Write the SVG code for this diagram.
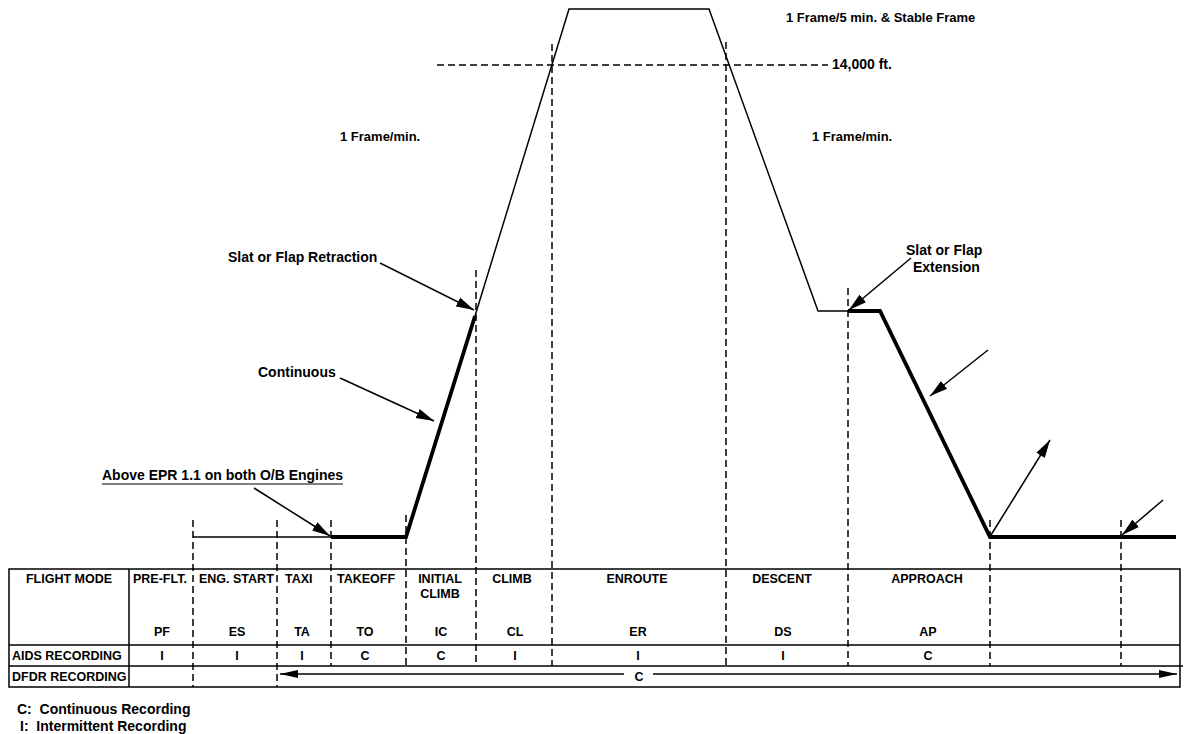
<svg xmlns="http://www.w3.org/2000/svg" width="1190" height="734" viewBox="0 0 1190 734">
<style>
text{font-family:"Liberation Sans",Arial,sans-serif;font-weight:bold;fill:#000}
.t{font-size:12.5px}
.a{font-size:14px}
.f{font-size:13px}
.l{font-size:14px}
.c{text-anchor:middle}
.thin{stroke:#000;stroke-width:1.5;fill:none}
.thick{stroke:#000;stroke-width:3.8;fill:none;stroke-linejoin:miter}
.dash{stroke:#000;stroke-width:1.5;stroke-dasharray:7,4;fill:none}
.ptr{stroke:#000;stroke-width:1.5;fill:none;marker-end:url(#ah)}
.grid{stroke:#000;stroke-width:1.5;fill:none}
</style>
<defs>
<marker id="ah" markerUnits="userSpaceOnUse" markerWidth="19" markerHeight="12" refX="18" refY="6" orient="auto">
<path d="M0,1 L18,6 L0,11 z" fill="#000"/>
</marker>
<marker id="dh" markerUnits="userSpaceOnUse" markerWidth="18" markerHeight="10" refX="18" refY="5" orient="auto">
<path d="M0,1 L18,5 L0,9 z" fill="#000"/>
</marker>
</defs>
<rect width="1190" height="734" fill="#fff"/>

<g id="profile">
<polyline class="thin" points="193,537 331,537"/>
<polyline class="thick" points="331,537 406,537 475,316"/>
<polyline class="thin" points="475,316 569,9 709,9 818,311 848,311"/>
<polyline class="thick" points="848,311 880,311 990,537 1176,537"/>
</g>

<g id="guides">
<line class="dash" x1="437" y1="65" x2="828" y2="65"/>
<line class="dash" x1="193" y1="520" x2="193" y2="687"/>
<line class="dash" x1="277" y1="520" x2="277" y2="687"/>
<line class="dash" x1="331" y1="520" x2="331" y2="666"/>
<line class="dash" x1="406" y1="515" x2="406" y2="666"/>
<line class="dash" x1="476" y1="270" x2="476" y2="666"/>
<line class="dash" x1="552" y1="44" x2="552" y2="666"/>
<line class="dash" x1="726" y1="42" x2="726" y2="666"/>
<line class="dash" x1="848" y1="288" x2="848" y2="666"/>
<line class="dash" x1="990" y1="520" x2="990" y2="666"/>
<line class="dash" x1="1121" y1="520" x2="1121" y2="666"/>
</g>

<g id="connectors">
<line class="ptr" x1="380" y1="263" x2="474" y2="310"/>
<line class="ptr" x1="340" y1="378" x2="434" y2="421"/>
<line class="ptr" x1="254" y1="488" x2="330" y2="536"/>
<line class="ptr" x1="911" y1="258" x2="849" y2="310"/>
<line class="ptr" x1="988" y1="350" x2="930" y2="396"/>
<line class="ptr" x1="991" y1="535" x2="1050" y2="440"/>
<line class="ptr" x1="1163" y1="500" x2="1122" y2="535"/>
</g>

<g id="labels">
<text class="f" x="786" y="22">1 Frame/5 min. &amp; Stable Frame</text>
<text class="a" x="832" y="69">14,000 ft.</text>
<text class="f" x="340" y="141">1 Frame/min.</text>
<text class="f" x="812" y="141">1 Frame/min.</text>
<text class="a" x="228" y="262">Slat or Flap Retraction</text>
<text class="a" x="258" y="377">Continuous</text>
<text class="a" x="102" y="480">Above EPR 1.1 on both O/B Engines</text>
<line x1="102" y1="484" x2="343" y2="484" stroke="#000" stroke-width="1.2"/>
<text class="a" x="906" y="255">Slat or Flap</text>
<text class="a" x="913" y="272">Extension</text>
</g>

<g id="table">
<path class="grid" d="M9,569 H1180 V687 H9 Z"/>
<line class="grid" x1="9" y1="645" x2="1180" y2="645"/>
<line class="grid" x1="9" y1="666" x2="1183" y2="666"/>
<line class="grid" x1="129" y1="569" x2="129" y2="687"/>
<text class="t c" x="69" y="583">FLIGHT MODE</text>
<text class="t" x="133" y="583">PRE-FLT.</text>
<text class="t" x="199" y="583">ENG. START</text>
<text class="t" x="285" y="583">TAXI</text>
<text class="t" x="337" y="583">TAKEOFF</text>
<text class="t c" x="440" y="583">INITIAL</text>
<text class="t c" x="440" y="598">CLIMB</text>
<text class="t c" x="512" y="583">CLIMB</text>
<text class="t c" x="637" y="583">ENROUTE</text>
<text class="t c" x="782" y="583">DESCENT</text>
<text class="t c" x="927" y="583">APPROACH</text>
<text class="t c" x="162" y="636">PF</text>
<text class="t c" x="237" y="636">ES</text>
<text class="t c" x="302" y="636">TA</text>
<text class="t c" x="365" y="636">TO</text>
<text class="t c" x="441" y="636">IC</text>
<text class="t c" x="515" y="636">CL</text>
<text class="t c" x="638" y="636">ER</text>
<text class="t c" x="783" y="636">DS</text>
<text class="t c" x="928" y="636">AP</text>
<text class="t" x="12" y="660">AIDS RECORDING</text>
<text class="t c" x="162" y="660">I</text>
<text class="t c" x="237" y="660">I</text>
<text class="t c" x="302" y="660">I</text>
<text class="t c" x="365" y="660">C</text>
<text class="t c" x="441" y="660">C</text>
<text class="t c" x="515" y="660">I</text>
<text class="t c" x="638" y="660">I</text>
<text class="t c" x="783" y="660">I</text>
<text class="t c" x="928" y="660">C</text>
<text class="t" x="12" y="681">DFDR RECORDING</text>
<line x1="624" y1="674" x2="280" y2="674" stroke="#000" stroke-width="1.5" marker-end="url(#dh)"/>
<line x1="653" y1="674" x2="1177" y2="674" stroke="#000" stroke-width="1.5" marker-end="url(#dh)"/>
<text class="t c" x="639" y="681">C</text>
</g>

<g id="legend">
<text class="l" x="17" y="714" xml:space="preserve">C:  Continuous Recording</text>
<text class="l" x="20" y="731" xml:space="preserve">I:  Intermittent Recording</text>
</g>
</svg>
